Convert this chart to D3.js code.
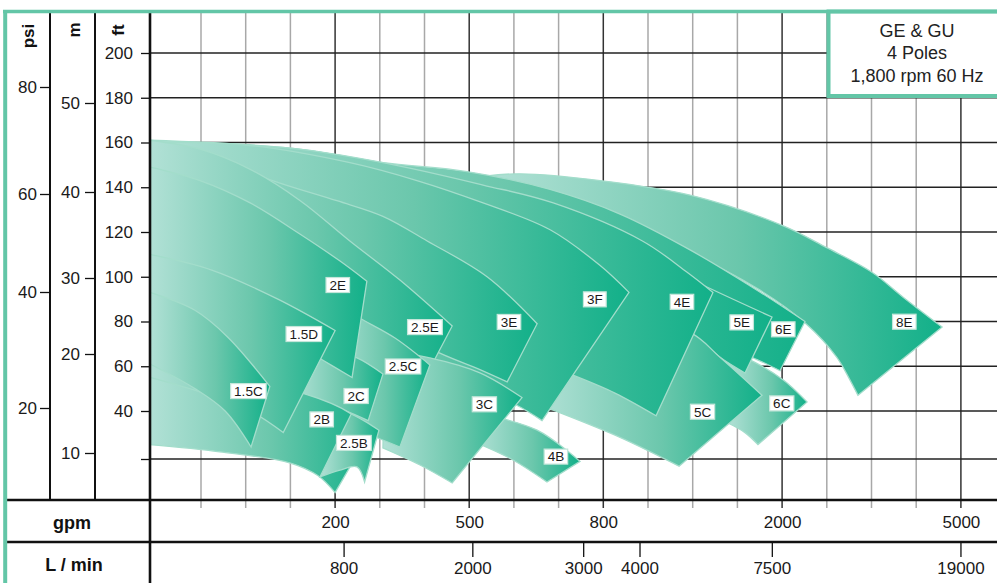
<!DOCTYPE html>
<html>
<head>
<meta charset="utf-8">
<title>GE &amp; GU 4 Poles</title>
<script src="https://cdn.jsdelivr.net/npm/d3@7"></script>
<style>
  body { margin: 0; background: #fff; }
  svg { display: block; }
</style>
</head>
<body>
<svg id="chart" width="997" height="583"></svg>
<script>
// ---- axes values ----
var gridGpm = [50, 100, 150, 200, 300, 400, 500, 600, 700, 800, 1000, 1200, 1500, 2000, 2500, 3000, 4000, 5000];
var gpmLabels = [200, 500, 800, 2000, 5000];
var lpmLabels = [800, 2000, 3000, 4000, 7500, 19000];
var lpmAtGpm = [219, 507, 755, 962, 1885, 4990];   // where each L/min label sits on the gpm scale
var ftGrid = [20, 40, 60, 80, 100, 120, 140, 160, 180, 200];
var ftLabels = [40, 60, 80, 100, 120, 140, 160, 180, 200];
var psiLabels = [20, 40, 60, 80];
var mLabels = [10, 20, 30, 40, 50];
var legendLines = ["GE & GU", "4 Poles", "1,800 rpm 60 Hz"];

// ---- pump models, back to front ----
var models = ["8E", "6E", "6C", "5E", "5C", "4E", "3F", "4B", "3E", "2.5E", "3C", "2.5C", "2C", "2E", "2B", "2.5B", "1.5D", "1.5C"];

// max impeller curve, [gpm, ft], left to right (last point = end of curve)
var topCurves = [
  [[535, 145], [614, 146], [793, 143], [1188, 136.5], [2000, 123], [2500, 113], [3010, 102], [3700, 91], [4580, 77.5]],
  [[0, 161], [150, 157.5], [307, 151], [495, 147], [681, 139], [875, 128], [1188, 112], [1719, 94], [2256, 80]],
  [[1437, 67], [1585, 64], [2010, 54], [2279, 44]],
  [[0, 160], [150, 157], [345, 148], [569, 136.5], [793, 119], [1188, 99], [1887, 82]],
  [[658, 81], [875, 80], [1188, 75], [1383, 64], [1775, 47]],
  [[0, 160], [150, 157.5], [307, 151], [531, 141], [688, 133], [975, 116], [1175, 102], [1336, 93]],
  [[0, 160], [97, 159], [233, 151], [383, 143], [531, 133], [681, 121], [793, 105], [915, 93]],
  [[513, 39.6], [652, 32], [748, 19]],
  [[0, 161], [60, 154], [130, 143], [204, 134], [307, 127], [406, 116], [540, 100], [652, 79]],
  [[0, 161], [49, 157], [105, 148], [161, 134], [233, 116], [345, 98.5], [462, 78]],
  [[312, 67], [412, 63.7], [524, 57], [618, 46]],
  [[194, 90], [251, 82], [334, 72.6], [412, 60.6]],
  [[155, 69.5], [194, 67], [249, 63.7], [307, 56.5]],
  [[0, 149], [49, 143], [105, 133], [161, 119], [211, 107], [271, 98]],
  [[0, 57], [82, 54], [166, 47.6], [236, 38.75], [278, 31]],
  [[236, 38.75], [266, 35.8], [298, 32]],
  [[0, 110], [62, 103], [136, 90], [200, 76]],
  [[0, 93], [44, 85], [80, 73], [127, 51]]
];

// min impeller curve, [gpm, ft], left to right
var bottomCurves = [
  [[535, 132], [793, 122], [1188, 110], [1753, 94], [2267, 79], [2612, 64], [2757, 54], [2849, 47]],
  [[0, 143], [345, 116], [793, 94], [1188, 78], [1451, 68], [1719, 63], [1977, 58]],
  [[1437, 35], [1585, 31], [1730, 26]],
  [[0, 134], [345, 107.5], [793, 90], [1188, 75], [1383, 64], [1585, 57]],
  [[658, 42.7], [688, 40.4], [875, 29], [1139, 17]],
  [[0, 103], [345, 81], [636, 63], [732, 56], [852, 48], [1036, 38]],
  [[0, 112], [345, 67], [524, 49], [602, 43], [663, 36]],
  [[513, 27], [598, 19.6], [674, 10.4]],
  [[0, 121], [233, 90], [412, 68], [524, 58.5], [585, 53]],
  [[0, 112], [161, 81], [300, 61], [386, 49]],
  [[307, 24.6], [390, 17.5], [462, 10]],
  [[194, 36], [278, 30], [345, 25]],
  [[155, 46], [211, 41], [274, 36]],
  [[0, 94], [71, 85], [138, 74], [185, 63], [238, 55]],
  [[0, 26], [71, 23], [150, 18.3], [181, 13], [200, 6]],
  [[183, 12.5], [211, 15.4], [249, 16.7], [266, 10.4]],
  [[0, 55], [49, 48.5], [105, 40], [142, 31]],
  [[0, 61], [44, 50], [77, 40], [106, 25]]
];

// label anchor of each model, in gpm and ft
var labelGpm = [3734, 2013, 1996, 1548, 1266, 1152, 781, 694, 589, 401, 534, 352, 247, 206, 185, 242, 165, 103];
var labelFt = [79.9, 76.5, 43.4, 79.6, 39.7, 88.8, 89.9, 21, 79.8, 77.5, 43, 59.9, 46.7, 96.3, 36.5, 26.7, 74.4, 48.9];

// ---- layout ----
var W = 997, H = 583;
var PLOT_LEFT = 150, TOP = 13, AXIS_Y = 500, LPM_Y = 542;
var GRID_X0 = 201, GRID_STEP = 44.7;
var FONT = '"Liberation Sans", Arial, Helvetica, sans-serif';
var TEAL = "#63c6a7";

var xScale = d3.scaleLinear()
  .domain([0].concat(gridGpm))
  .range([PLOT_LEFT].concat(gridGpm.map(function (d, i) { return GRID_X0 + i * GRID_STEP; })));

var ftScale = d3.scaleLinear().domain([20, 40, 200]).range([459, 411, 53]);
var psiScale = d3.scaleLinear().domain([20, 40, 60, 80]).range([408, 292, 194, 87]);
var mScale = d3.scaleLinear().domain([10, 20, 30, 40, 50]).range([453, 354, 278, 192, 103]);
var lpmScale = d3.scaleLinear().domain(lpmLabels).range(lpmAtGpm.map(xScale));

var svg = d3.select("#chart");

svg.append("rect").attr("width", W).attr("height", H).attr("fill", "#fff");

// grid
svg.append("g").selectAll("line").data(gridGpm).join("line")
  .attr("x1", function (d) { return xScale(d); })
  .attr("x2", function (d) { return xScale(d); })
  .attr("y1", TOP).attr("y2", AXIS_Y + 8)
  .attr("stroke", function (d) { return gpmLabels.indexOf(d) >= 0 ? "#333" : "#a8a8a8"; })
  .attr("stroke-width", 1.5);

svg.append("g").selectAll("line").data(ftGrid).join("line")
  .attr("x1", PLOT_LEFT).attr("x2", W)
  .attr("y1", function (d) { return ftScale(d); })
  .attr("y2", function (d) { return ftScale(d); })
  .attr("stroke", "#222").attr("stroke-width", 1.3);

// gradients, one per model, from its left end to its end of curve
var defs = svg.append("defs");
models.forEach(function (m, i) {
  var top = topCurves[i], bot = bottomCurves[i];
  var g = defs.append("linearGradient")
    .attr("id", "grad" + i)
    .attr("gradientUnits", "userSpaceOnUse")
    .attr("x1", xScale(Math.min(top[0][0], bot[0][0]))).attr("x2", xScale(top[top.length - 1][0]))
    .attr("y1", 0).attr("y2", 0);
  g.append("stop").attr("offset", "0%").attr("stop-color", "#b2e1d6");
  g.append("stop").attr("offset", "55%").attr("stop-color", "#6bc7ac");
  g.append("stop").attr("offset", "100%").attr("stop-color", "#12b089");
});

var curveLine = d3.line().curve(d3.curveCatmullRom.alpha(0.5));
function toPx(p) { return [xScale(p[0]), ftScale(p[1])]; }
function shapePath(i) {
  var top = topCurves[i].map(toPx);
  var bot = bottomCurves[i].map(toPx).reverse();
  return curveLine(top) + "L" + curveLine(bot).slice(1) + "Z";
}

svg.append("g").selectAll("path").data(models).join("path")
  .attr("d", function (d, i) { return shapePath(i); })
  .attr("fill", function (d, i) { return "url(#grad" + i + ")"; })
  .attr("stroke", "#a3ddcb")
  .attr("stroke-width", 1.3)
  .attr("stroke-linejoin", "miter");

// model labels
var labels = svg.append("g").selectAll("g").data(models).join("g")
  .attr("transform", function (d, i) {
    return "translate(" + xScale(labelGpm[i]) + "," + ftScale(labelFt[i]) + ")";
  });
labels.append("rect");
labels.append("text")
  .text(function (d) { return d; })
  .attr("text-anchor", "middle")
  .attr("dy", "0.36em")
  .attr("font-family", FONT)
  .attr("font-size", 13.5)
  .attr("fill", "#1a1a1a");
labels.each(function () {
  var g = d3.select(this);
  var w = g.select("text").node().getComputedTextLength();
  g.select("rect")
    .attr("x", -w / 2 - 3.5).attr("y", -7.5)
    .attr("width", w + 7).attr("height", 15)
    .attr("fill", "#fff").attr("stroke", "#c4e6da").attr("stroke-width", 1.2);
});

// legend box
svg.append("rect")
  .attr("x", 828.5).attr("y", 11.5).attr("width", 180).attr("height", 84.5)
  .attr("fill", "#fff").attr("stroke", TEAL).attr("stroke-width", 4);
svg.append("g").selectAll("text").data(legendLines).join("text")
  .attr("x", 917).attr("y", function (d, i) { return 36.5 + i * 22.5; })
  .attr("text-anchor", "middle")
  .attr("font-family", FONT).attr("font-size", 18).attr("fill", "#222")
  .text(function (d) { return d; });

// frame
var frame = svg.append("g").attr("stroke", "#111");
frame.append("line").attr("x1", 50).attr("x2", 50).attr("y1", TOP).attr("y2", AXIS_Y).attr("stroke-width", 2);
frame.append("line").attr("x1", 95).attr("x2", 95).attr("y1", TOP).attr("y2", AXIS_Y).attr("stroke-width", 2);
frame.append("line").attr("x1", PLOT_LEFT).attr("x2", PLOT_LEFT).attr("y1", TOP).attr("y2", H).attr("stroke-width", 2.6);
frame.append("line").attr("x1", 6).attr("x2", W).attr("y1", AXIS_Y).attr("y2", AXIS_Y).attr("stroke-width", 2.6);
frame.append("line").attr("x1", 6).attr("x2", W).attr("y1", LPM_Y).attr("y2", LPM_Y).attr("stroke-width", 2.6);

svg.append("line").attr("x1", 3).attr("x2", W).attr("y1", 11.5).attr("y2", 11.5)
  .attr("stroke", TEAL).attr("stroke-width", 3.6);
svg.append("line").attr("x1", 5.2).attr("x2", 5.2).attr("y1", 10).attr("y2", H)
  .attr("stroke", TEAL).attr("stroke-width", 4);

// left axes
function styleAxis(g, size) {
  g.select(".domain").remove();
  g.selectAll(".tick line").attr("stroke", "#111").attr("stroke-width", 1.3);
  g.selectAll(".tick text").attr("font-family", FONT).attr("font-size", size).attr("fill", "#1a1a1a");
  g.attr("font-family", null).attr("font-size", null);
}

svg.append("g").attr("transform", "translate(" + PLOT_LEFT + ",0)")
  .call(d3.axisLeft(ftScale).tickValues(ftGrid).tickSize(9).tickPadding(8)
    .tickFormat(function (d) { return ftLabels.indexOf(d) >= 0 ? d : ""; }))
  .call(styleAxis, 17);

svg.append("g").attr("transform", "translate(95,0)")
  .call(d3.axisLeft(mScale).tickValues(mLabels).tickSize(10).tickPadding(5))
  .call(styleAxis, 17);

svg.append("g").attr("transform", "translate(50,0)")
  .call(d3.axisLeft(psiScale).tickValues(psiLabels).tickSize(10).tickPadding(3))
  .call(styleAxis, 17);

// bottom axes
svg.append("g").attr("transform", "translate(0," + AXIS_Y + ")")
  .call(d3.axisBottom(xScale).tickValues(gpmLabels).tickSize(0).tickPadding(16).tickFormat(d3.format("d")))
  .call(styleAxis, 17);

svg.append("g").attr("transform", "translate(0," + LPM_Y + ")")
  .call(d3.axisBottom(lpmScale).tickValues(lpmLabels).tickSize(15).tickPadding(5).tickFormat(d3.format("d")))
  .call(styleAxis, 17);

// unit titles
var titles = [
  { t: "psi", x: 34, y: 36 },
  { t: "m", x: 80, y: 30 },
  { t: "ft", x: 124, y: 30 }
];
svg.append("g").selectAll("text").data(titles).join("text")
  .attr("transform", function (d) { return "translate(" + d.x + "," + d.y + ") rotate(-90)"; })
  .attr("text-anchor", "middle")
  .attr("font-family", FONT).attr("font-size", 17).attr("font-weight", "bold").attr("fill", "#111")
  .text(function (d) { return d.t; });

svg.append("text").attr("x", 72).attr("y", 529)
  .attr("text-anchor", "middle")
  .attr("font-family", FONT).attr("font-size", 18).attr("font-weight", "bold").attr("fill", "#111")
  .text("gpm");
svg.append("text").attr("x", 74).attr("y", 571)
  .attr("text-anchor", "middle")
  .attr("font-family", FONT).attr("font-size", 18).attr("font-weight", "bold").attr("fill", "#111")
  .text("L / min");
</script>
</body>
</html>
